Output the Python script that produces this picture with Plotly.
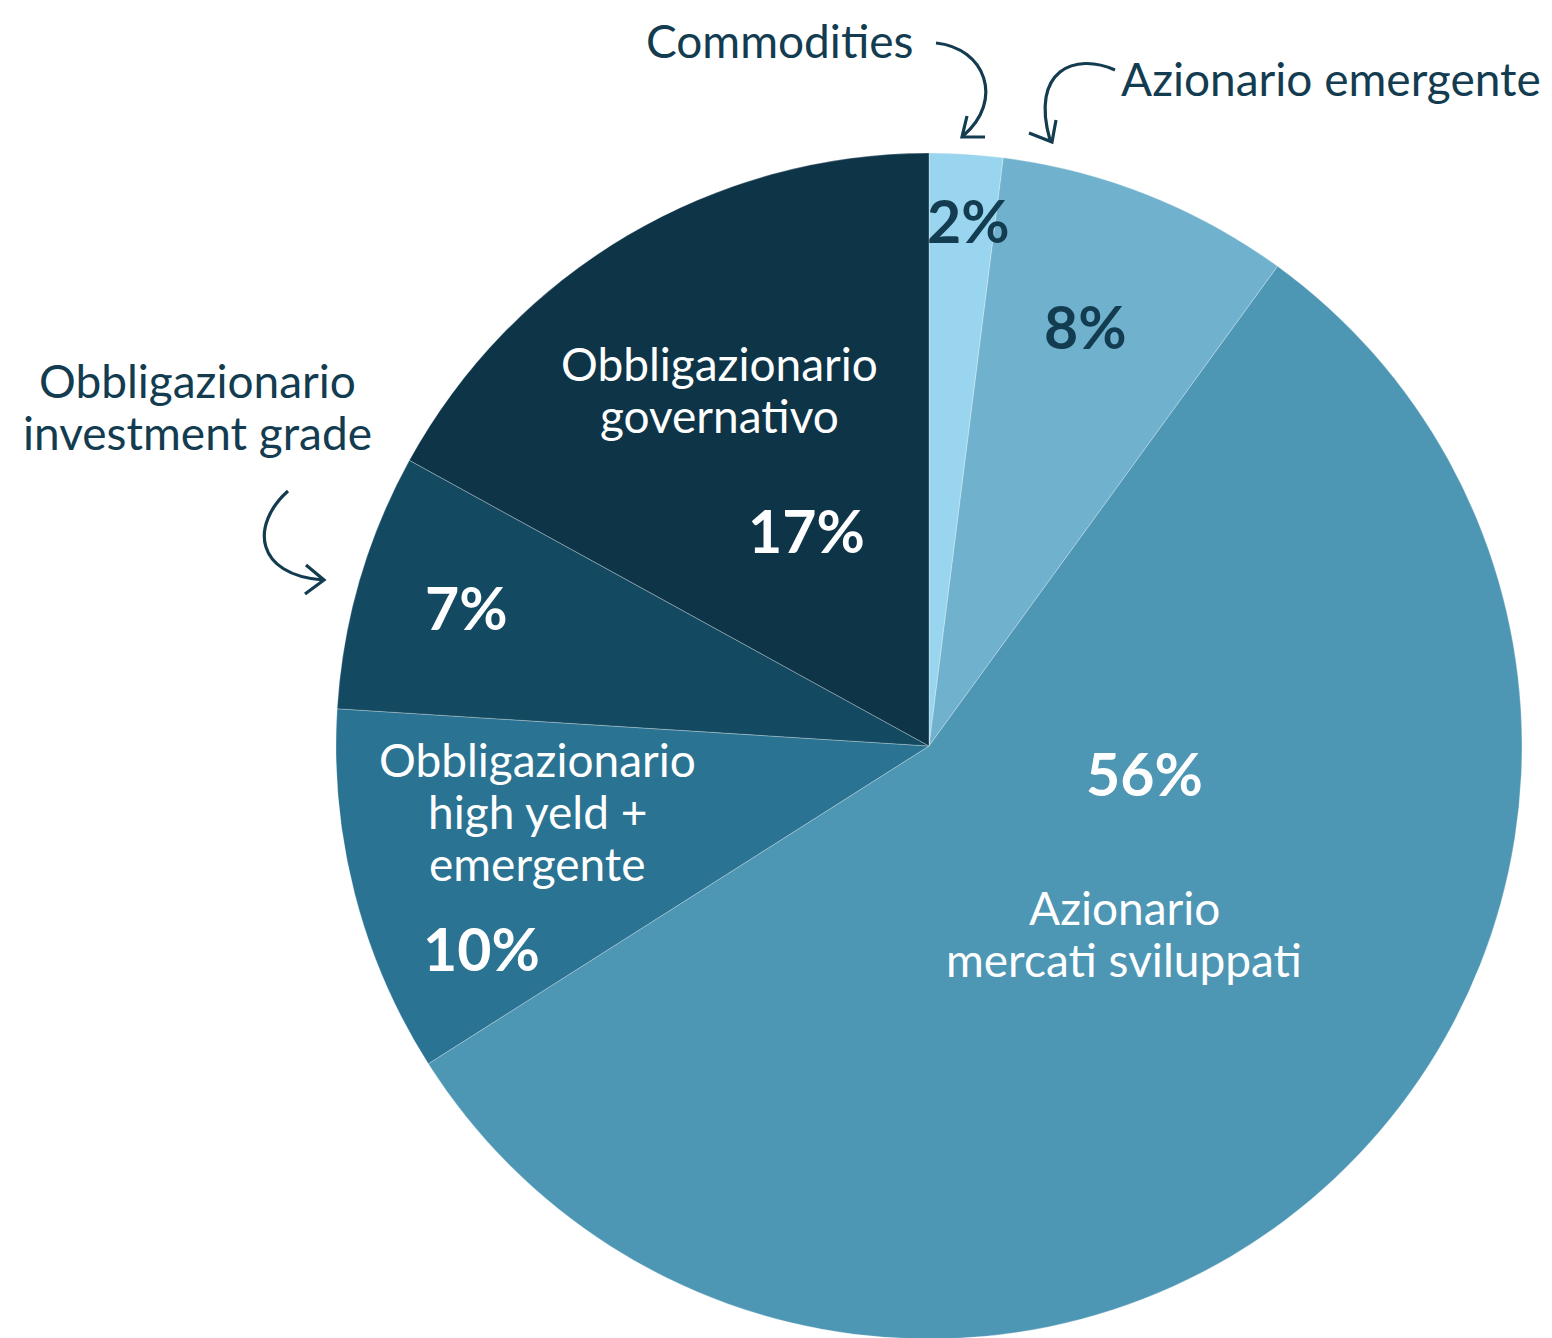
import plotly.graph_objects as go

# ---- data ----
categories = ["Commodities", "Azionario emergente", "Azionario mercati sviluppati",
              "Obbligazionario high yeld + emergente", "Obbligazionario investment grade",
              "Obbligazionario governativo"]
values = [2, 8, 56, 10, 7, 17]
pct_labels = ["2%", "8%", "56%", "10%", "7%", "17%"]
colors = ["#99D5EE", "#70B2CE", "#4D96B4", "#2A7393", "#134A61", "#0E3448"]

W, H = 1552, 1338
OFF = 8  # page body margin
DARK = "#133C50"
FONT = "Lato"

CX, CY, R = 929 - OFF, 746 - OFF, 593
fig = go.Figure()
fig.add_trace(go.Pie(
    labels=categories, values=values, sort=False, direction="clockwise", rotation=0,
    marker=dict(colors=colors, line=dict(color="rgba(255,255,255,0.35)", width=0.8)),
    textinfo="none", hoverinfo="label+percent", showlegend=False,
    domain=dict(x=[(CX - R) / W, (CX + R) / W],
                y=[(H - CY - R) / H, (H - CY + R) / H]),
))

def ann(x, y, text, size, color, bold=False):
    fig.add_annotation(x=x, y=y, xref="x", yref="y", text=(f"<b>{text}</b>" if bold else text),
                       showarrow=False, align="center",
                       font=dict(family=FONT, size=size, color=color))

def block(x, y0, lines, color, size=46, step=52):
    for i, t in enumerate(lines):
        ann(x, y0 + i * step, t, size, color)

# category texts
block(779, 40, ["Commodities"], DARK)
block(1331, 78, ["Azionario emergente"], DARK)
block(197, 380, ["Obbligazionario", "investment grade"], DARK)
block(719, 363, ["Obbligazionario", "governativo"], "white")
block(537, 759, ["Obbligazionario", "high yeld +", "emergente"], "white")
block(1124, 907, ["Azionario", "mercati sviluppati"], "white")

# percentage texts
pct_pos = [(968, 220, DARK), (1085, 326, DARK), (1144, 773, "white"),
           (481, 948, "white"), (466, 607, "white"), (806, 530, "white")]
for (x, y, c), t in zip(pct_pos, pct_labels):
    ann(x, y, t, 59, c, bold=True)

# curved arrows
arrow_paths = [
    "M 936 43 C 985 48, 1005 100, 963 136",
    "M 967 116 L 962 137 L 985 137",
    "M 1115 70 C 1075 52, 1030 70, 1050 140",
    "M 1029 133 L 1052 142 L 1056 120",
    "M 288 491 C 250 525, 255 575, 323 580",
    "M 306 565 L 324 580 L 305 594",
]
for p in arrow_paths:
    fig.add_shape(type="path", path=p, xref="x", yref="y",
                  line=dict(color=DARK, width=3.2), fillcolor="rgba(0,0,0,0)")

fig.update_xaxes(range=[OFF, W + OFF], visible=False, fixedrange=True)
fig.update_yaxes(range=[H + OFF, OFF], visible=False, fixedrange=True)
fig.update_layout(width=W, height=H, margin=dict(l=0, r=0, t=0, b=0),
                  paper_bgcolor="white", plot_bgcolor="rgba(0,0,0,0)")

fig.write_html("out.html")
